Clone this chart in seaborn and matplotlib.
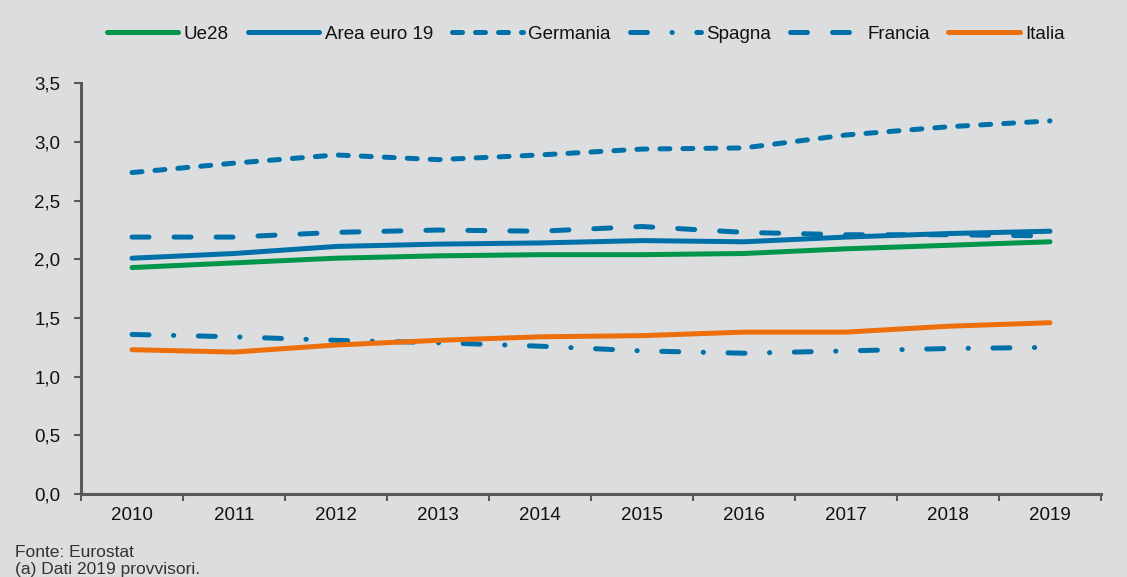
import numpy as np
import pandas as pd
import matplotlib
matplotlib.use('Agg')
import matplotlib.pyplot as plt
import seaborn as sns

# Data
years = ['2010', '2011', '2012', '2013', '2014', '2015', '2016', '2017', '2018', '2019']
ue28 = [1.93, 1.97, 2.01, 2.03, 2.04, 2.04, 2.05, 2.09, 2.12, 2.15]
area_euro = [2.01, 2.05, 2.11, 2.13, 2.14, 2.16, 2.15, 2.19, 2.22, 2.24]
germania = [2.74, 2.82, 2.89, 2.85, 2.89, 2.94, 2.95, 3.06, 3.13, 3.18]
spagna = [1.36, 1.34, 1.31, 1.29, 1.26, 1.22, 1.20, 1.22, 1.24, 1.25]
francia = [2.19, 2.19, 2.23, 2.25, 2.24, 2.28, 2.23, 2.21, 2.21, 2.20]
italia = [1.23, 1.21, 1.27, 1.31, 1.34, 1.35, 1.38, 1.38, 1.43, 1.46]
y_ticks = [0.0, 0.5, 1.0, 1.5, 2.0, 2.5, 3.0, 3.5]

BG = '#dcdddf'
GREEN = '#00964a'
BLUE = '#0071a8'
ORANGE = '#ec6f0c'
SPINE = '#595959'

sns.set_theme(style='white', rc={'axes.facecolor': BG, 'figure.facecolor': BG})
plt.rcParams['font.family'] = ['Liberation Sans', 'DejaVu Sans']

fig = plt.figure(figsize=(11.27, 5.77), dpi=100)
ax = fig.add_axes([0.0719, 0.1438, 0.905, 0.7117])

x = np.arange(len(years))
series = [
    ('Ue28', ue28, GREEN, None),
    ('Area euro 19', area_euro, BLUE, None),
    ('Germania', germania, BLUE, (2.0, 2.6)),
    ('Spagna', spagna, BLUE, (3.4, 4.9, 0.05, 4.9)),
    ('Francia', francia, BLUE, (3.4, 5.0)),
    ('Italia', italia, ORANGE, None),
]

lw = 3.6
for name, vals, col, dash in series:
    sns.lineplot(x=x, y=vals, ax=ax, color=col, linewidth=lw, label=name,
                 solid_capstyle='round', dash_capstyle='round')
    line = ax.lines[-1]
    if dash is not None:
        line.set_dashes(dash)

ax.set_xlim(-0.5, len(years) - 0.5)
ax.set_ylim(0, 3.5)
ax.set_yticks(y_ticks)
ax.set_yticklabels([f'{v:.1f}'.replace('.', ',') for v in y_ticks])

ax.set_xticks(np.arange(len(years) + 1) - 0.5)
ax.set_xticklabels([])
ax.set_xticks(x, minor=True)
ax.set_xticklabels(years, minor=True)
ax.tick_params(axis='x', which='major', length=5, width=1.5, color=SPINE, direction='out', bottom=True)
ax.tick_params(axis='x', which='minor', length=0, pad=9, labelsize=13.5, labelcolor='#111111')
ax.tick_params(axis='y', length=5, width=1.5, color=SPINE, direction='out', left=True,
               pad=10, labelsize=13.5, labelcolor='#111111')

for s in ['top', 'right']:
    ax.spines[s].set_visible(False)
for s in ['left', 'bottom']:
    ax.spines[s].set_color(SPINE)
    ax.spines[s].set_linewidth(2.2)
ax.set_xlabel('')
ax.set_ylabel('')
ax.grid(False)

ax.legend(loc='center', bbox_to_anchor=(0.52, 0.941), bbox_transform=fig.transFigure,
          ncol=6, frameon=False, fontsize=13.5, handlelength=3.8, handletextpad=0.3,
          columnspacing=1.0, labelcolor='#111111')

fig.text(0.013, 0.043, 'Fonte: Eurostat', fontsize=12.5, color='#333333',
         family=['Liberation Sans Narrow', 'Liberation Sans'], va='center')
fig.text(0.013, 0.013, '(a) Dati 2019 provvisori.', fontsize=12.5, color='#333333',
         family=['Liberation Sans Narrow', 'Liberation Sans'], va='center')

fig.savefig('out.png', dpi=100, facecolor=BG)
